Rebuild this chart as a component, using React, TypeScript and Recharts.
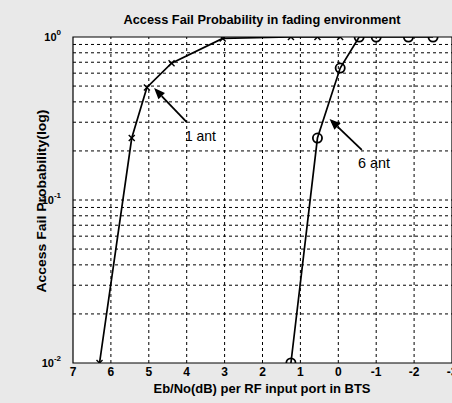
import React from "react";
import {
  LineChart,
  Line,
  XAxis,
  YAxis,
  CartesianGrid,
  ReferenceLine,
  ReferenceArea,
} from "recharts";

// 1 antenna curve
const ebno1 = [6.3, 5.45, 5.05, 4.4, 3.05, 1.25, 0.55, -0.05];
const pf1 = [0.01, 0.24, 0.49, 0.69, 0.98, 1, 1, 1];

// 6 antenna curve
const ebno6 = [1.25, 0.55, -0.05, -0.55, -1.0, -1.85, -2.5];
const pf6 = [0.01, 0.24, 0.645, 1, 1, 1, 1];

const xTicks = [7, 6, 5, 4, 3, 2, 1, 0, -1, -2, -3];
const yTicks = [0.01, 0.1, 1];
const xGrid = [6, 5, 4, 3, 2, 1, 0, -1, -2];
const yGrid = [
  0.02, 0.03, 0.04, 0.05, 0.06, 0.07, 0.08, 0.09, 0.1,
  0.2, 0.3, 0.4, 0.5, 0.6, 0.7, 0.8, 0.9,
];

// arrow annotations: [tailX, tailY, tipX, tipY]
const arrow1 = [4.0, 0.3, 4.86, 0.486];
const arrow6 = [-0.62, 0.203, 0.23, 0.314];

const data1 = ebno1.map((x, i) => ({ x, y: pf1[i] }));
const data6 = ebno6.map((x, i) => ({ x, y: pf6[i] }));

const FONT = "'Liberation Sans', Arial, sans-serif";

function CrossDot(props: any) {
  const { cx, cy } = props;
  if (cx == null || cy == null) return null;
  const s = 3;
  return (
    <g stroke="#000" strokeWidth={1.4}>
      <line x1={cx - s} y1={cy - s} x2={cx + s} y2={cy + s} />
      <line x1={cx - s} y1={cy + s} x2={cx + s} y2={cy - s} />
    </g>
  );
}

function CircleDot(props: any) {
  const { cx, cy } = props;
  if (cx == null || cy == null) return null;
  return <circle cx={cx} cy={cy} r={4.6} fill="none" stroke="#000" strokeWidth={1.8} />;
}

function Arrow(props: any) {
  const { x1, y1, x2, y2 } = props;
  const dx = x2 - x1;
  const dy = y2 - y1;
  const len = Math.sqrt(dx * dx + dy * dy) || 1;
  const ux = dx / len;
  const uy = dy / len;
  const hl = 11;
  const hw = 4.5;
  const bx = x2 - ux * hl;
  const by = y2 - uy * hl;
  return (
    <g>
      <line x1={x1} y1={y1} x2={bx} y2={by} stroke="#000" strokeWidth={1.8} />
      <polygon
        points={`${x2},${y2} ${bx - uy * hw},${by + ux * hw} ${bx + uy * hw},${by - ux * hw}`}
        fill="#000"
      />
    </g>
  );
}

function YTick(props: any) {
  const { x, y, payload } = props;
  const exp = Math.round(Math.log10(payload.value));
  return (
    <text x={x - 4} y={y + 4} fontFamily={FONT} fontSize={11} fontWeight="bold" fill="#000" textAnchor="end">
      10
      <tspan dy={-6} fontSize={8}>{String(exp)}</tspan>
    </text>
  );
}

function XTick(props: any) {
  const { x, y, payload } = props;
  return (
    <text x={x} y={y + 5} fontFamily={FONT} fontSize={12} fontWeight="bold" fill="#000" textAnchor="middle">
      {String(payload.value)}
    </text>
  );
}

export default function App() {
  return (
    <div
      style={{
        position: "fixed",
        left: 0,
        top: 0,
        width: 452,
        height: 403,
        overflow: "hidden",
        background: "#e9e9e9",
      }}
    >
      <LineChart
        width={460}
        height={403}
        margin={{ top: 37, right: 8, bottom: 0, left: 0 }}
      >
        <CartesianGrid fill="#fff" horizontal={false} vertical={false} />
        <XAxis
          type="number"
          dataKey="x"
          domain={[-3, 7]}
          reversed
          ticks={xTicks}
          tick={<XTick />}
          tickLine={false}
          axisLine={false}
          height={40}
          allowDataOverflow
        />
        <YAxis
          type="number"
          dataKey="y"
          scale="log"
          domain={[0.01, 1]}
          ticks={yTicks}
          tick={<YTick />}
          tickLine={false}
          axisLine={false}
          width={73}
          allowDataOverflow
        />
        {xGrid.map((v) => (
          <ReferenceLine key={`vx${v}`} x={v} stroke="#000" strokeWidth={1} strokeDasharray="3 3" />
        ))}
        {yGrid.map((v) => (
          <ReferenceLine key={`hy${v}`} y={v} stroke="#000" strokeWidth={1} strokeDasharray="3 3" />
        ))}
        <ReferenceArea x1={-3} x2={7} y1={0.01} y2={1} fill="none" stroke="#000" strokeWidth={1.2} />
        <ReferenceLine
          segment={[
            { x: arrow1[0], y: arrow1[1] },
            { x: arrow1[2], y: arrow1[3] },
          ]}
          shape={(p: any) => <Arrow {...p} />}
        />
        <ReferenceLine
          segment={[
            { x: arrow6[0], y: arrow6[1] },
            { x: arrow6[2], y: arrow6[3] },
          ]}
          shape={(p: any) => <Arrow {...p} />}
        />
        <Line
          data={data1}
          dataKey="y"
          type="linear"
          stroke="#000"
          strokeWidth={1.7}
          dot={<CrossDot />}
          activeDot={false}
          isAnimationActive={false}
        />
        <Line
          data={data6}
          dataKey="y"
          type="linear"
          stroke="#000"
          strokeWidth={1.7}
          dot={<CircleDot />}
          activeDot={false}
          isAnimationActive={false}
        />
      </LineChart>
      <svg
        width={452}
        height={403}
        style={{ position: "absolute", left: 0, top: 0, pointerEvents: "none" }}
      >
        <text
          x={262}
          y={24}
          fontFamily={FONT}
          fontSize={12.5}
          fontWeight="bold"
          textAnchor="middle"
          textLength={277}
          lengthAdjust="spacingAndGlyphs"
        >
          Access Fail Probability in fading environment
        </text>
        <text
          x={262}
          y={393}
          fontFamily={FONT}
          fontSize={12}
          fontWeight="bold"
          textAnchor="middle"
          textLength={217}
          lengthAdjust="spacingAndGlyphs"
        >
          Eb/No(dB) per RF input port in BTS
        </text>
        <text
          transform="translate(46,201) rotate(-90)"
          fontFamily={FONT}
          fontSize={12}
          fontWeight="bold"
          textAnchor="middle"
          textLength={183}
          lengthAdjust="spacingAndGlyphs"
        >
          Access Fail Probability(log)
        </text>
        <text x={185} y={141} fontFamily={FONT} fontSize={15} textLength={31} lengthAdjust="spacingAndGlyphs">
          1 ant
        </text>
        <text x={358} y={168} fontFamily={FONT} fontSize={15} textLength={32} lengthAdjust="spacingAndGlyphs">
          6 ant
        </text>
      </svg>
    </div>
  );
}
